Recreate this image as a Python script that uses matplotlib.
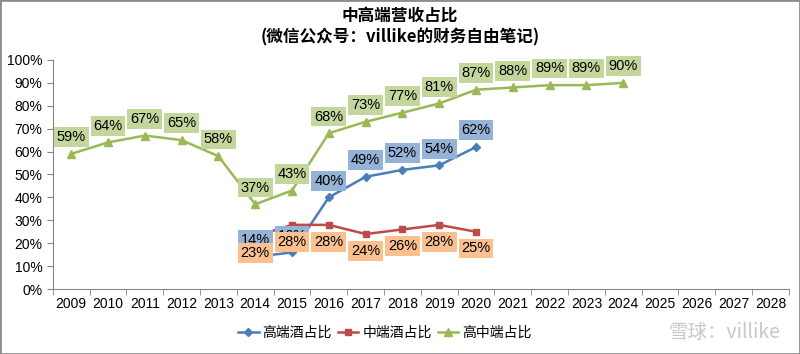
import matplotlib.pyplot as plt
import numpy as np

plt.rcParams['font.family'] = ['Liberation Sans', 'Noto Sans CJK SC', 'DejaVu Sans']

years = [str(y) for y in range(2009, 2029)]

# 高端酒占比, 2014-2020
high_years = list(range(2014, 2021))
high = [14, 16, 40, 49, 52, 54, 62]
# 中端酒占比, 2014-2020
mid_years = list(range(2014, 2021))
mid = [23, 28, 28, 24, 26, 28, 25]
# 高中端占比, 2009-2024
all_years = list(range(2009, 2025))
both = [59, 64, 67, 65, 58, 37, 43, 68, 73, 77, 81, 87, 88, 89, 89, 90]

c_high = '#4a7ebb'
c_mid = '#be4b48'
c_both = '#98b954'

fig = plt.figure(figsize=(8, 3.54), dpi=100)
ax = fig.add_axes([0.066, 0.1836, 0.92, 0.647])

def xs(yrs):
    return [y - 2009 for y in yrs]

l1, = ax.plot(xs(high_years), np.array(high) / 100, color=c_high, lw=1.8,
              marker='D', ms=4, label='高端酒占比', zorder=3)
l2, = ax.plot(xs(mid_years), np.array(mid) / 100, color=c_mid, lw=1.8,
              marker='s', ms=5, label='中端酒占比', zorder=3)
l3, = ax.plot(xs(all_years), np.array(both) / 100, color=c_both, lw=1.8,
              marker='^', ms=5.5, label='高中端占比', zorder=3)

def labels(yrs, vals, fc, dy, va, z):
    for x, v in zip(xs(yrs), vals):
        ax.annotate(f'{v}%', (x, v / 100), xytext=(0, dy), textcoords='offset points',
                    ha='center', va=va, fontsize=10.5, zorder=z,
                    bbox=dict(boxstyle='square,pad=0.2', fc=fc, ec='none'))

labels(all_years, both, '#c3d69b', 7, 'bottom', 4)
labels(high_years, high, '#95b3d7', 7, 'bottom', 5)
labels(mid_years, mid, '#fac090', -7, 'top', 6)

ax.set_xlim(-0.5, len(years) - 0.5)
ax.set_ylim(0, 1)
ax.set_yticks(np.arange(0, 1.01, 0.1))
ax.set_yticklabels([f'{int(round(t * 100))}%' for t in np.arange(0, 1.01, 0.1)], fontsize=10)
ax.set_xticks(range(len(years)))
ax.set_xticklabels(years, fontsize=10)
ax.set_xticks(np.arange(-0.5, len(years), 1), minor=True)
ax.tick_params(axis='x', which='major', length=0, pad=6)
ax.tick_params(axis='x', which='minor', length=4, color='#868686')
ax.tick_params(axis='y', length=4, color='#868686')
for s in ['top', 'right']:
    ax.spines[s].set_visible(False)
for s in ['left', 'bottom']:
    ax.spines[s].set_color('#868686')

fig.text(0.5, 0.955, '中高端营收占比', ha='center', va='center', fontsize=12,
         fontweight='bold', family=['Noto Sans CJK SC', 'DejaVu Sans'])
fig.text(0.5, 0.895, '(微信公众号：villike的财务自由笔记)', ha='center', va='center',
         fontsize=12, fontweight='bold', family=['Noto Sans CJK SC', 'DejaVu Sans'])

leg = fig.legend(handles=[l1, l2, l3], loc='center', bbox_to_anchor=(0.481, 0.06),
                 ncol=3, frameon=False, handlelength=1.5, columnspacing=0.4,
                 handletextpad=0.3, prop={'family': ['Noto Sans CJK SC', 'DejaVu Sans'], 'size': 10})

fig.text(0.905, 0.06, '雪球：villike', ha='center', va='center', fontsize=14,
         color='#c8c8c8', family=['Noto Sans CJK SC', 'DejaVu Sans'])

fig.patches.append(plt.Rectangle((0, 0), 1, 1, transform=fig.transFigure,
                                 fill=False, ec='#8c8c8c', lw=2))

fig.savefig('out.png', dpi=100)
